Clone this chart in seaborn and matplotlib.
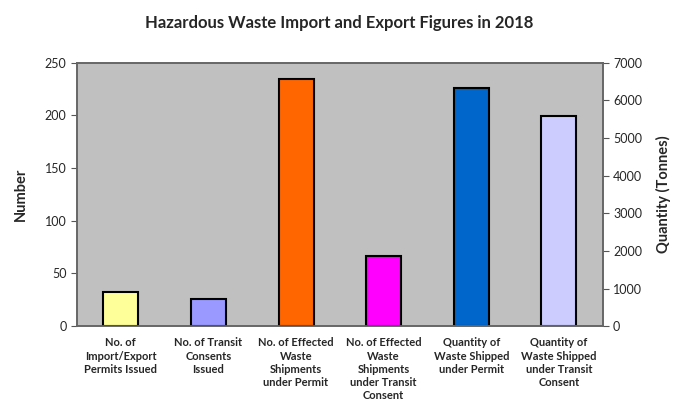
import pandas as pd
import matplotlib.pyplot as plt
import seaborn as sns

# Data
categories = [
    "No. of\nImport/Export\nPermits Issued",
    "No. of Transit\nConsents\nIssued",
    "No. of Effected\nWaste\nShipments\nunder Permit",
    "No. of Effected\nWaste\nShipments\nunder Transit\nConsent",
    "Quantity of\nWaste Shipped\nunder Permit",
    "Quantity of\nWaste Shipped\nunder Transit\nConsent",
]
number_values = [32, 26, 235, 67]          # left axis (Number)
tonnes_values = [6330, 5590]               # right axis (Quantity, Tonnes)
bar_colors = ["#FFFF99", "#9999FF", "#FF6600", "#FF00FF", "#0066CC", "#CCCCFF"]

left_df = pd.DataFrame({"category": categories[:4], "value": number_values})
right_df = pd.DataFrame({"category": categories[4:], "value": tonnes_values})
palette = dict(zip(categories, bar_colors))

sns.set_style("white")
plt.rcParams["font.family"] = ["Lato", "DejaVu Sans"]

fig = plt.figure(figsize=(7, 4.16), dpi=100)
ax = fig.add_axes([0.11, 0.216, 0.751, 0.633])

sns.barplot(data=left_df, x="category", y="value", hue="category", order=categories,
            hue_order=categories, palette=palette, legend=False, width=0.4, saturation=1,
            edgecolor="black", linewidth=1.5, ax=ax)

ax2 = ax.twinx()
sns.barplot(data=right_df, x="category", y="value", hue="category", order=categories,
            hue_order=categories, palette=palette, legend=False, width=0.4, saturation=1,
            edgecolor="black", linewidth=1.5, ax=ax2)

ax.set_xlim(-0.5, 5.5)
ax.set_ylim(0, 250)
ax.set_yticks(range(0, 251, 50))
ax2.set_ylim(0, 7000)
ax2.set_yticks(range(0, 7001, 1000))

ax.set_xlabel("")
ax.set_ylabel("Number", fontsize=10.5, fontweight="bold", labelpad=12)
ax2.set_ylabel("Quantity (Tonnes)", fontsize=10.5, fontweight="bold", labelpad=10)
ax2.set_xlabel("")

ax.set_xticks(range(len(categories)))
ax.set_xticklabels(categories, fontsize=8, fontweight="bold", linespacing=1.25)
ax.tick_params(axis="x", length=0, pad=8)
ax.tick_params(axis="y", labelsize=9, length=4, direction="out", color="#555555", left=True)
ax2.tick_params(axis="y", labelsize=9, length=4, direction="out", color="#555555", right=True)

for spine in list(ax.spines.values()) + list(ax2.spines.values()):
    spine.set_color("#666666")
    spine.set_linewidth(1.2)

# left-axis bars drawn above the grey background of the twin axis
ax.set_zorder(ax2.get_zorder() + 1)
ax.patch.set_visible(False)
ax2.patch.set_visible(True)
ax2.set_facecolor("#C0C0C0")

fig.suptitle("Hazardous Waste Import and Export Figures in 2018", x=0.485, y=0.965,
             fontsize=12, fontweight="bold")

fig.savefig("out.png", dpi=100)
